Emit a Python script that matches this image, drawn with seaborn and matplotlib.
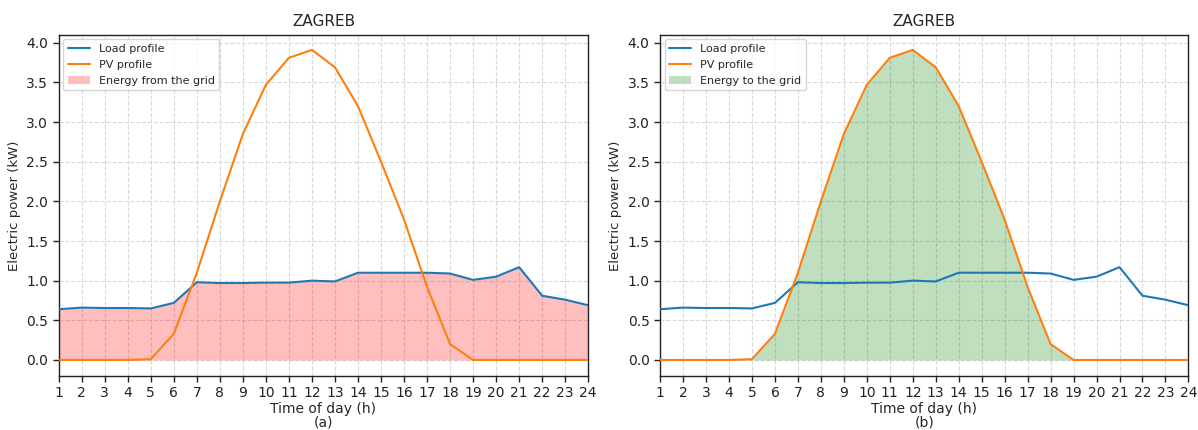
import numpy as np
import pandas as pd
import seaborn as sns
import matplotlib
matplotlib.use("Agg")
import matplotlib.pyplot as plt

hours = list(range(1, 25))
load_kw = [0.64, 0.66, 0.655, 0.655, 0.65, 0.72, 0.98, 0.97, 0.97, 0.975, 0.975, 1.0,
           0.99, 1.10, 1.10, 1.10, 1.10, 1.09, 1.01, 1.05, 1.17, 0.81, 0.76, 0.69]
pv_kw = [0.0, 0.0, 0.0, 0.0, 0.01, 0.33, 1.10, 2.00, 2.85, 3.47, 3.81, 3.91,
         3.69, 3.20, 2.50, 1.77, 0.92, 0.20, 0.0, 0.0, 0.0, 0.0, 0.0, 0.0]
city = "ZAGREB"
fill_labels = ["Energy from the grid", "Energy to the grid"]
panel_tags = ["(a)", "(b)"]
yticks = [0.0, 0.5, 1.0, 1.5, 2.0, 2.5, 3.0, 3.5, 4.0]

df = pd.DataFrame({"hour": hours, "load": load_kw, "pv": pv_kw})

sns.set_theme(style="ticks")
plt.rcParams["font.family"] = ["DejaVu Sans"]

fig = plt.figure(figsize=(11.98, 4.30), dpi=100)
axes = [fig.add_axes([0.049, 0.126, 0.442, 0.793]),
        fig.add_axes([0.551, 0.126, 0.441, 0.793])]

for i, ax in enumerate(axes):
    if i == 0:
        ax.fill_between(df["hour"], 0, df["load"], color="red", alpha=0.25,
                        linewidth=0, label=fill_labels[0], zorder=1)
    else:
        ax.fill_between(df["hour"], 0, df["pv"], color="green", alpha=0.25,
                        linewidth=0, label=fill_labels[1], zorder=1)
    sns.lineplot(data=df, x="hour", y="load", ax=ax, color="#1f77b4",
                 linewidth=1.5, label="Load profile", zorder=3)
    sns.lineplot(data=df, x="hour", y="pv", ax=ax, color="#ff7f0e",
                 linewidth=1.5, label="PV profile", zorder=3)
    ax.set_xlim(1, 24)
    ax.set_ylim(-0.2, 4.1)
    ax.set_xticks(hours)
    ax.set_yticks(yticks)
    ax.tick_params(labelsize=10, length=4, width=1, colors="#222222")
    ax.grid(True, linestyle="--", color="#d9d9d9", linewidth=0.8)
    ax.set_axisbelow(True)
    for s in ax.spines.values():
        s.set_color("#222222")
        s.set_linewidth(1.0)
    ax.set_title(city, fontsize=11, pad=6)
    ax.set_xlabel("Time of day (h)\n" + panel_tags[i], fontsize=10, labelpad=1,
                  linespacing=1.0)
    ax.set_ylabel("Electric power (kW)", fontsize=9.5)
    h, l = ax.get_legend_handles_labels()
    order = [l.index("Load profile"), l.index("PV profile"), l.index(fill_labels[i])]
    ax.legend([h[k] for k in order], [l[k] for k in order], loc="upper left",
              fontsize=8, frameon=True, borderaxespad=0.4, handlelength=2.0,
              labelspacing=0.55, framealpha=0.8)

fig.savefig("out.png", dpi=100)
